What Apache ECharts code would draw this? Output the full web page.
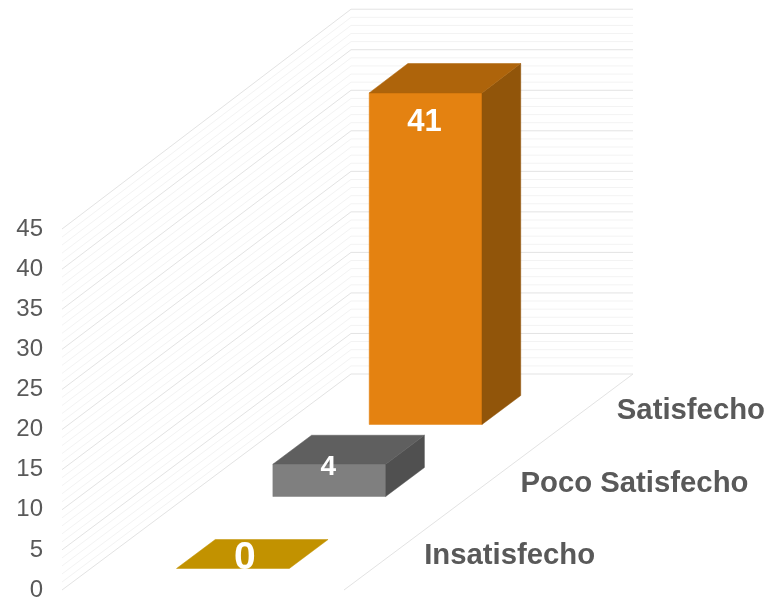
<!DOCTYPE html>
<html>
<head>
<meta charset="utf-8">
<style>html,body{margin:0;padding:0;background:#fff}#chart{width:770px;height:600px}</style>
<script src="https://cdn.jsdelivr.net/npm/echarts@6/dist/echarts.min.js"></script>
</head>
<body>
<div id="chart"></div>
<script>
// Satisfaction counts per category, front to back
const categories = ['Insatisfecho', 'Poco Satisfecho', 'Satisfecho'];
const counts = [0, 4, 41];
const frontColors = ['#C29200', '#7F7F7F', '#E48211'];
const topColors = ['#C29200', '#5F5F5F', '#AE640B'];
const sideColors = ['#C29200', '#505050', '#91550A'];
const valueLabelSizes = [39, 28, 31];
const gridLevels = [0,1,2,3,4,5,6,7,8,9,10,11,12,13,14,15,16,17,18,19,20,21,22,23,24,25,
  26,27,28,29,30,31,32,33,34,35,36,37,38,39,40,41,42,43,44,45];

// Oblique projection: full depth of the floor in pixels, plus a slight
// perspective growth of the vertical scale towards the back plane
const DEPTH_X = 289, DEPTH_Y = -216, PERSPECTIVE = 0.0105;
const BAR_LEFT = 0.304, BAR_RIGHT = 0.704;   // lateral extent of a bar on the value axis
const HALF_DEPTH = 0.067;                    // half of a bar's depth, as a share of floor depth

function project(api, lateral, value, depth) {
  const p = api.coord([lateral, value]);
  const base = api.coord([lateral, 0]);
  const rise = (base[1] - p[1]) * PERSPECTIVE * depth;
  return [p[0] + DEPTH_X * depth, p[1] + DEPTH_Y * depth - rise];
}

// Wall and back-plane lines for one level; every fifth level is stronger
function renderLevel(params, api) {
  const v = api.value(1);
  const major = v % 5 === 0;
  const a = project(api, 0, v, 0), b = project(api, 0, v, 1), c = project(api, 1, v, 1);
  return {
    type: 'polyline',
    shape: { points: [a, b, c] },
    style: { stroke: major ? '#E3E3E3' : '#F3F3F3', lineWidth: 1, fill: null }
  };
}

// Floor's right edge, joining the front of the floor to its back corner
function renderFloorEdge(params, api) {
  const a = project(api, 1, 0, 0), b = project(api, 1, 0, 1);
  return {
    type: 'line',
    shape: { x1: a[0], y1: a[1], x2: b[0], y2: b[1] },
    style: { stroke: '#E3E3E3', lineWidth: 1 }
  };
}

function renderBar(params, api) {
  const i = api.value(2), v = api.value(1);
  const mid = (i + 0.5) / categories.length;
  const d0 = mid - HALF_DEPTH, d1 = mid + HALF_DEPTH;
  const L = BAR_LEFT, R = BAR_RIGHT;
  const poly = (pts, fill) => ({
    type: 'polygon',
    shape: { points: pts },
    style: { fill: fill, stroke: fill, lineWidth: 0.5 }
  });
  const children = [];
  if (v > 0) {
    children.push(poly([project(api, L, 0, d0), project(api, R, 0, d0),
      project(api, R, v, d0), project(api, L, v, d0)], frontColors[i]));
    children.push(poly([project(api, R, 0, d0), project(api, R, 0, d1),
      project(api, R, v, d1), project(api, R, v, d0)], sideColors[i]));
  }
  children.push(poly([project(api, L, v, d0), project(api, R, v, d0),
    project(api, R, v, d1), project(api, L, v, d1)], topColors[i]));

  // Value label: near the top of a tall bar, on the top face of a flat one
  const front = project(api, (L + R) / 2, v, d0);
  let lx = front[0] - 1, ly = front[1];
  if (v > 10) { ly += 29.5; }
  else if (v > 0) { ly += 3; }
  else { lx += 13; ly -= 10; }
  children.push({
    type: 'text',
    style: {
      text: String(v), x: lx, y: ly, align: 'center', verticalAlign: 'middle',
      fill: '#FFFFFF', font: 'bold ' + valueLabelSizes[i] + 'px "Liberation Sans"'
    }
  });
  return { type: 'group', children: children };
}

// Category names sit beyond the floor's right edge, level with their band
function renderCategory(params, api) {
  const i = api.value(2);
  const p = project(api, 1, 0, (i + 0.5) / categories.length);
  return {
    type: 'text',
    style: {
      text: categories[i], x: p[0] + 32, y: p[1] + 2 - (i === 2 ? 1 : 0), align: 'left', verticalAlign: 'middle',
      fill: '#595959', font: 'bold 29.3px "Liberation Sans"'
    }
  };
}

const chart = echarts.init(document.getElementById('chart'), null, { renderer: 'canvas' });
chart.setOption({
  animation: false,
  backgroundColor: '#FFFFFF',
  grid: { left: 62, top: 229, width: 282, height: 361, containLabel: false, outerBoundsMode: 'none' },
  xAxis: { type: 'value', min: 0, max: 1, show: false },
  yAxis: {
    type: 'value', min: 0, max: 45, interval: 5,
    axisLine: { show: false }, axisTick: { show: false }, splitLine: { show: false },
    axisLabel: { color: '#595959', fontSize: 24, fontFamily: 'Liberation Sans', margin: 19,
      padding: [5, 0, 0, 0] }
  },
  series: [
    { type: 'custom', z: 1, renderItem: renderLevel, encode: { x: 0, y: 1 }, silent: true,
      data: gridLevels.map(v => [0, v]) },
    { type: 'custom', z: 1, renderItem: renderFloorEdge, encode: { x: 0, y: 1 }, silent: true,
      data: [[1, 0]] },
    { type: 'custom', z: 2, renderItem: renderBar, encode: { x: 0, y: 1 }, silent: true,
      data: counts.map((v, i) => [BAR_LEFT, v, i]) },
    { type: 'custom', z: 3, renderItem: renderCategory, encode: { x: 0, y: 1 }, silent: true,
      data: categories.map((c, i) => [1, 0, i]) }
  ]
});
</script>
</body>
</html>
